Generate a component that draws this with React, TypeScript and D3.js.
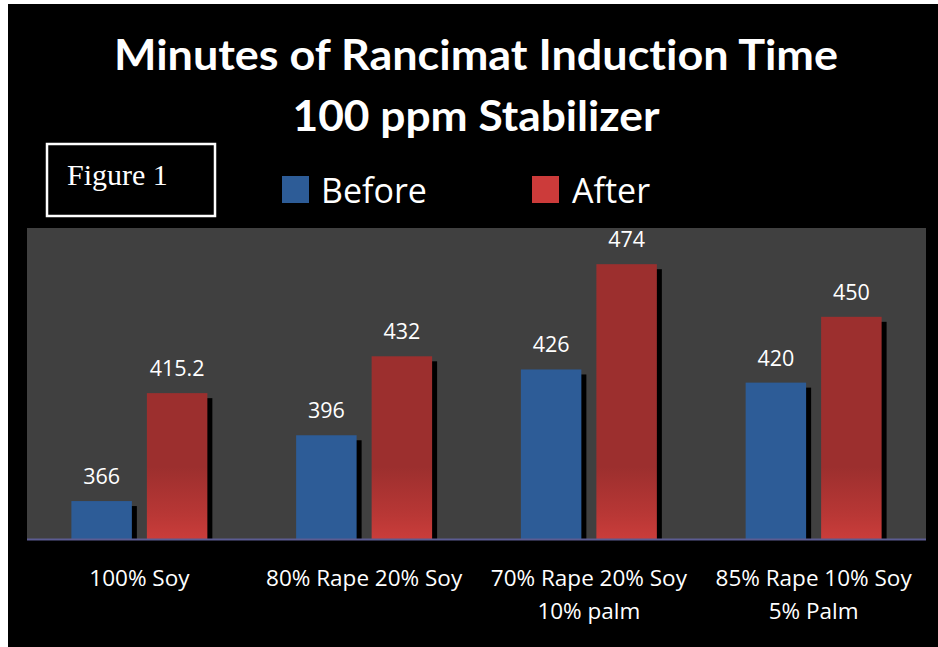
import React from "react";
import * as d3 from "d3";

const categories = ["100% Soy", "80% Rape 20% Soy", "70% Rape 20% Soy|10% palm", "85% Rape 10% Soy|5% Palm"];
const seriesNames = ["Before", "After"];
const beforeValues = [366, 396, 426, 420];
const afterValues = [415.2, 432, 474, 450];
const valueDomain = [348.7, 490.5];
const titleLines = ["Minutes of Rancimat Induction Time", "100 ppm Stabilizer"];

const W = 938;
const H = 647;
const plot = { left: 27, right: 926, top: 228, bottom: 539 };
const BLUE = "#2d5c97";
const RED = "#9c2f2e";
const RED_MID = "#b83735";
const RED_LIGHT = "#ca3d3b";
const FONT = "'Open Sans', 'Noto Sans', sans-serif";

export default function App() {
  const x = d3.scaleBand<string>().domain(categories).range([plot.left, plot.right]).paddingInner(0).paddingOuter(0);
  const xi = d3.scaleBand<string>().domain(seriesNames).range([0, x.bandwidth()]).paddingInner(0.199).paddingOuter(0.588);
  const y = d3.scaleLinear().domain(valueDomain).range([plot.bottom, plot.top]);
  const seriesValues = [beforeValues, afterValues];
  const fills = [BLUE, "url(#redGrad)"];
  const shadow = { dx: 5, dy: 5 };

  return (
    <svg width={W} height={H} style={{ position: "absolute", left: 0, top: 0, display: "block" }}>
      <defs>
        <linearGradient id="redGrad" gradientUnits="userSpaceOnUse" x1="0" x2="0" y1={plot.bottom} y2={plot.bottom - 72}>
          <stop offset="0" stopColor={RED_LIGHT} />
          <stop offset="0.35" stopColor={RED_MID} />
          <stop offset="1" stopColor={RED} />
        </linearGradient>
      </defs>
      <rect x={0} y={0} width={W} height={H} fill="#ffffff" />
      <rect x={8} y={4} width={W - 8} height={H - 4} fill="#000000" />

      {titleLines.map((t, i) => (
        <text key={t} x={476} y={70 + i * 61} textAnchor="middle" fill="#ffffff" fontFamily="Lato, 'Open Sans', sans-serif" fontWeight={700} fontSize={42} textLength={i === 0 ? 724 : 367} lengthAdjust="spacingAndGlyphs" style={{ fontVariantLigatures: "none" }}>
          {t}
        </text>
      ))}

      <rect x={47} y={144} width={168} height={72} fill="none" stroke="#ffffff" strokeWidth={2.5} />
      <text x={67} y={185} fill="#ffffff" fontFamily="'Liberation Serif', 'Times New Roman', serif" fontSize={30}>Figure 1</text>

      <rect x={282} y={176} width={27} height={27} fill={BLUE} />
      <text x={321} y={203} fill="#ffffff" fontFamily={FONT} fontSize={34}>Before</text>
      <rect x={532} y={176} width={27} height={27} fill="#cc3b3a" />
      <text x={572} y={203} fill="#ffffff" fontFamily={FONT} fontSize={34}>After</text>

      <rect x={plot.left} y={plot.top} width={plot.right - plot.left} height={plot.bottom - plot.top} fill="#404040" />

      {categories.map((c, ci) => (
        <g key={c}>
          {seriesNames.map((s, si) => {
            const v = seriesValues[si][ci];
            const bx = (x(c) as number) + (xi(s) as number);
            const bw = xi.bandwidth();
            const by = y(v);
            return (
              <g key={s}>
                <rect x={bx + shadow.dx} y={by + shadow.dy} width={bw} height={plot.bottom - by - shadow.dy} fill="#000000" />
                <rect x={bx} y={by} width={bw} height={plot.bottom - by} fill={fills[si]} />
                <text x={bx + bw / 2} y={by - 17} textAnchor="middle" fill="#ffffff" fontFamily={FONT} fontSize={21.5}>
                  {String(v)}
                </text>
              </g>
            );
          })}
          {c.split("|").map((line, li) => (
            <text key={li} x={(x(c) as number) + x.bandwidth() / 2} y={586 + li * 33} textAnchor="middle" fill="#ffffff" fontFamily={FONT} fontSize={22.5}>
              {line}
            </text>
          ))}
        </g>
      ))}

      <line x1={plot.left} x2={plot.right} y1={plot.bottom + 0.5} y2={plot.bottom + 0.5} stroke="#5c5c92" strokeWidth={2} />
    </svg>
  );
}
